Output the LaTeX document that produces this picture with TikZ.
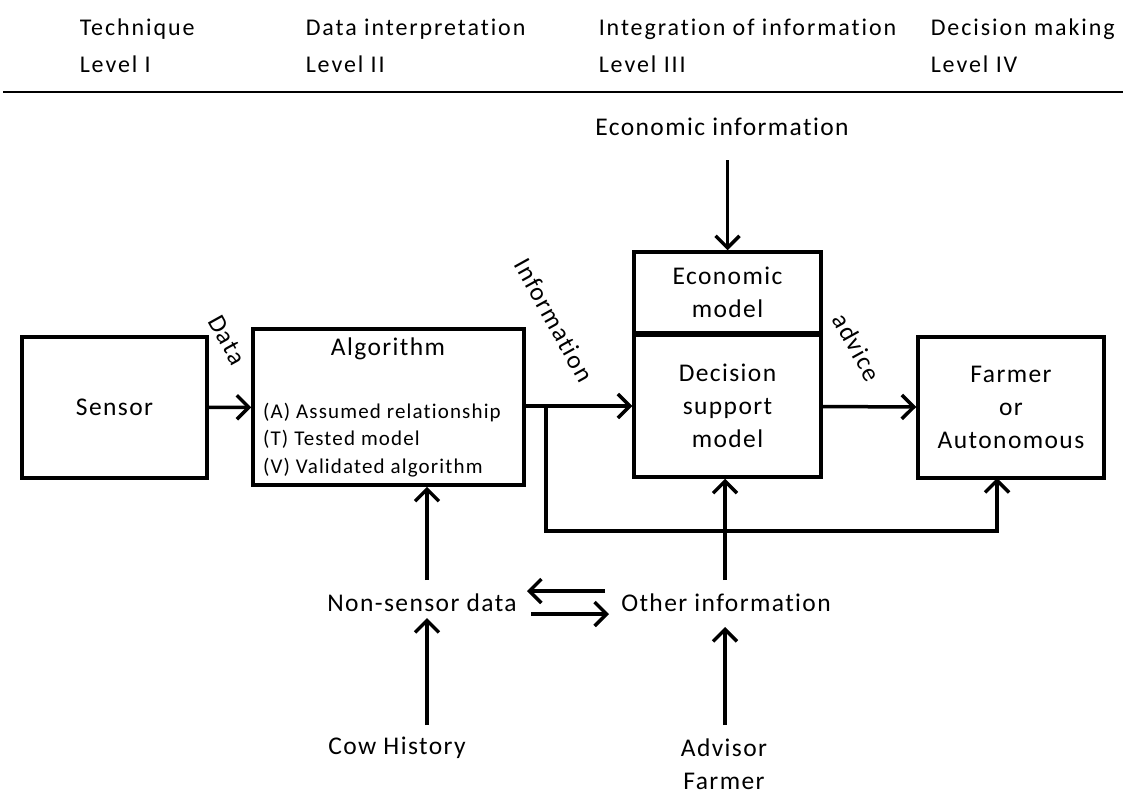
\documentclass[tikz,border=0pt]{standalone}
\usepackage{fontspec}
\setmainfont[LetterSpace=5.5,Ligatures=NoCommon]{Carlito}
\newfontfamily\hdrfont[LetterSpace=8,Ligatures=NoCommon]{Carlito}
\usetikzlibrary{arrows.meta,positioning}

\begin{document}
\begin{tikzpicture}[x=1pt,y=-1pt,line width=3.5pt,>={Straight Barb[length=12pt,width=24pt,line width=3.5pt]},every node/.append style={align=center,font=\fontsize{25.5}{33}\selectfont},blok/.style={draw,rectangle,inner sep=0pt,line width=3.5pt},hdr/.style={anchor=west,align=left,inner sep=0pt,font=\hdrfont\fontsize{24}{37}\selectfont},rot/.style={rotate=-61}]
    \useasboundingbox (0,0) rectangle (1123,790);
    % levels
    \node [hdr] (lev1) at (78,46) {Technique\\Level I};
    \node [hdr] (lev2) at (304,46) {Data interpretation\\Level II};
    \node [hdr] (lev3) at (597,46) {Integration of information\\Level III};
    \node [hdr] (lev4) at (929,46) {Decision making\\Level IV};
    \coordinate (ruleL) at (3,92);
    \coordinate (ruleR) at (1123,92);
    \draw [line width=2pt] (ruleL) -- (ruleR);
    % boxes
    \node [blok, minimum width=185, minimum height=141] (sensor) at (114.5,407.5) {Sensor};
    \node [blok, minimum width=271, minimum height=156] (algo) at (388.5,407) {};
    \node (algtitle) at (388,349) {Algorithm};
    \node [anchor=west, align=left, font=\fontsize{21}{27.5}\selectfont] (algtext) at (258,440) {(A) Assumed relationship\\(T) Tested model\\(V) Validated algorithm};
    \node [blok, minimum width=187, minimum height=142] (dsm) at (727.5,406) {Decision\\support\\model};
    \node [blok, minimum width=187, minimum height=81, above=-1.5pt of dsm.north, anchor=south] (econ) {Economic\\model};
    \node [blok, minimum width=186, minimum height=141] (farmer) at (1011,407.5) {Farmer\\or\\Autonomous};
    % outside texts
    \node (ecoinfo) at (722,127) {Economic information};
    \node (nonsens) at (422,603) {Non-sensor data};
    \node (other) at (726,603) {Other information};
    \node (cow) at (397,748) {Cow History};
    \node (advisor) at (724,764) {Advisor\\Farmer};
    % rotated labels
    \node [rot] (lbldata) at (227,340) {Data};
    \node [rot] (lblinfo) at (554,320) {Information};
    \node [rot] (lbladvice) at (857,347) {advice};
    % connector ends
    \coordinate (split) at (546,406);
    \coordinate (loop) at (546,531);
    \coordinate (farmin) at (997,478);
    \coordinate (ecotop) at (727.5,160);
    \coordinate (othtop) at (725,580);
    \coordinate (nontop) at (427,580);
    \coordinate (nsL) at (605,591);
    \coordinate (nsR) at (527,591);
    \coordinate (onL) at (531,614);
    \coordinate (onR) at (609,614);
    \coordinate (cowtop) at (427,725);
    \coordinate (nonbot) at (427,618);
    \coordinate (advtop) at (725,725);
    \coordinate (othbot) at (725,627);
    % connectors
    \draw [->] (sensor) -- (algo);
    \draw [->] (algo.east |- dsm) -- (dsm);
    \draw [->] (dsm) -- (farmer);
    \draw [->] (split) -- (loop) -| (farmin);
    \draw [->] (ecotop) -- (econ.north);
    \draw [->] (othtop) -- (othtop |- dsm.south);
    \draw [->] (nontop) -- (nontop |- algo.south);
    \draw [->] (nsL) -- (nsR);
    \draw [->] (onL) -- (onR);
    \draw [->] (cowtop) -- (nonbot);
    \draw [->] (advtop) -- (othbot);
\end{tikzpicture}
\end{document}
